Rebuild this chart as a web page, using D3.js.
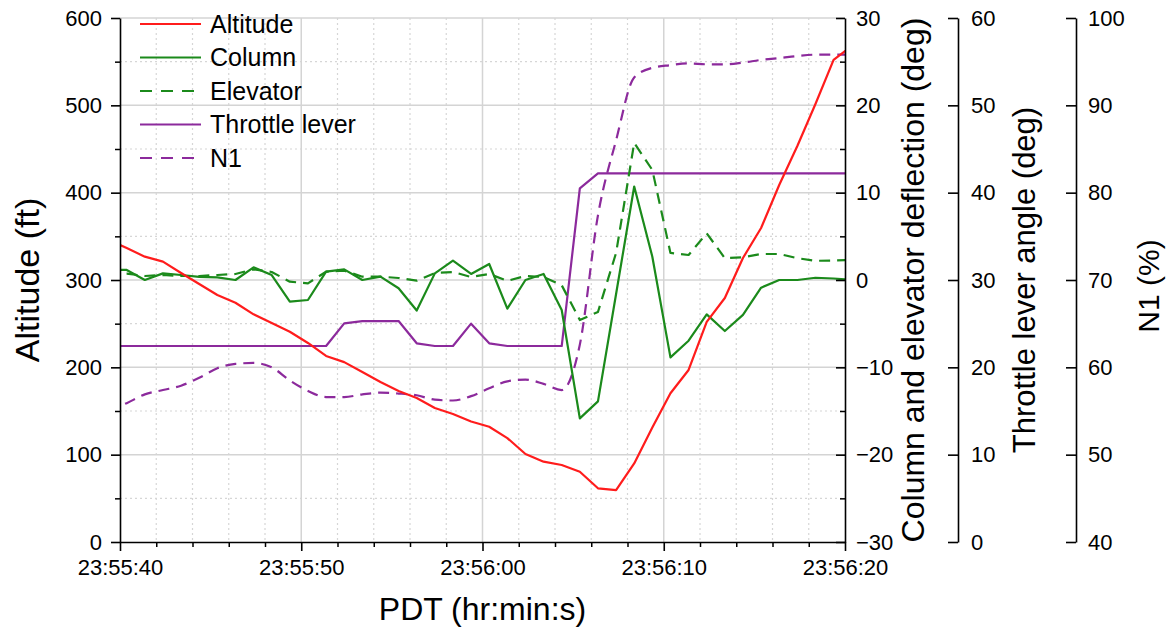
<!DOCTYPE html>
<html><head><meta charset="utf-8">
<script src="https://cdn.jsdelivr.net/npm/d3@7"></script>
<style>
body{margin:0;background:#fff;}
svg{display:block;font-family:"Liberation Sans",Arial,sans-serif;}
</style></head><body>
<svg id="chart" width="1166" height="635"></svg>
<script>
// ---- data (seconds after 23:55:40 PDT) ----
const timeSec = [-0.63,0.37,1.37,2.37,3.37,4.37,5.37,6.37,7.37,8.37,9.37,10.37,11.37,12.37,13.37,14.37,15.37,16.37,17.37,18.37,19.37,20.37,21.37,22.37,23.37,24.37,25.37,26.37,27.37,28.37,29.37,30.37,31.37,32.37,33.37,34.37,35.37,36.37,37.37,38.37,39.37,40.37];
const altitude = [345.8,336.6,326.7,321,308,295.4,282.8,274,260.7,250.8,240.8,227.9,213,206,194.7,183.2,172.9,164.9,153.4,146.6,138,132,119,100.8,92,88.2,80.5,61.5,59.5,90,131,170.3,197,252,279.4,325.2,359.6,408.8,453.5,501.5,552,568];
const column = [1.2,1.15,0,0.76,0.57,0.35,0.3,0,1.45,0.57,-2.48,-2.29,0.95,1.22,0,0.38,-0.95,-3.5,0.76,2.21,0.69,1.83,-3.28,0,0.69,-3.43,-15.84,-13.9,-1.6,10.7,2.67,-8.86,-6.95,-3.93,-5.84,-4.0,-0.88,0,0,0.26,0.17,0];
const elevator = [0.7,0.74,0.46,0.57,0.46,0.46,0.57,0.69,1.22,0.92,-0.19,-0.38,0.95,1.06,0.38,0.38,0.23,-0.08,0.8,0.92,0.34,0.69,-0.1,0.46,0.34,-0.6,-4.58,-3.66,3.1,15.7,12.6,3.1,2.86,5.35,2.5,2.6,2.98,2.98,2.5,2.2,2.23,2.3];
const throttle = [22.44,22.44,22.44,22.44,22.44,22.44,22.44,22.44,22.44,22.44,22.44,22.44,22.44,25.04,25.3,25.3,25.3,22.75,22.44,22.44,25.0,22.75,22.44,22.44,22.44,22.44,40.5,42.2,42.2,42.2,42.2,42.2,42.2,42.2,42.2,42.2,42.2,42.2,42.2,42.2,42.2,42.2];
const n1 = [55.0,55.9,56.9,57.4,57.9,58.8,59.9,60.4,60.5,60.0,58.5,57.3,56.6,56.6,56.9,57.1,57.0,56.8,56.3,56.2,56.7,57.6,58.4,58.6,58.1,57.4,62.6,77.4,86.0,93.2,94.3,94.6,94.8,94.7,94.7,94.9,95.2,95.4,95.65,95.8,95.8,95.8];

const xTickValues = [0,10,20,30,40];
const xTickLabels = ["23:55:40","23:55:50","23:56:00","23:56:10","23:56:20"];
const altTicks = [0,100,200,300,400,500,600];
const degTicks = [-30,-20,-10,0,10,20,30];
const thrTicks = [0,10,20,30,40,50,60];
const n1Ticks = [40,50,60,70,80,90,100];

const legendNames = ["Altitude","Column","Elevator","Throttle lever","N1"];

// ---- layout ----
const W = 1166, H = 635;
const m = {l:120, r:845, t:18, b:542};
const svg = d3.select("#chart");

const x = d3.scaleLinear().domain([0,40]).range([m.l,m.r]);
const yAlt = d3.scaleLinear().domain([0,600]).range([m.b,m.t]);
const yDeg = d3.scaleLinear().domain([-30,30]).range([m.b,m.t]);
const yThr = d3.scaleLinear().domain([0,60]).range([m.b,m.t]);
const yN1 = d3.scaleLinear().domain([40,100]).range([m.b,m.t]);

const RED = "#ff1c1c", GREEN = "#1b8a1b", PURPLE = "#8c2a9c";
const FONT = 22;
const DASH = "11,7";

// ---- grid ----
const grid = svg.append("g");
const xMinor = d3.range(2,40,2).filter(d => d % 10 !== 0);
const yMinor = d3.range(50,600,100);
grid.selectAll(".vmin").data(xMinor).join("line")
  .attr("x1", d=>x(d)).attr("x2", d=>x(d)).attr("y1", m.t).attr("y2", m.b)
  .attr("stroke", "#d6d6d6").attr("stroke-width", 1.2).attr("stroke-dasharray", "2,3");
grid.selectAll(".hmin").data(yMinor).join("line")
  .attr("y1", d=>yAlt(d)).attr("y2", d=>yAlt(d)).attr("x1", m.l).attr("x2", m.r)
  .attr("stroke", "#d6d6d6").attr("stroke-width", 1.2).attr("stroke-dasharray", "2,3");
grid.selectAll(".vmaj").data(xTickValues.slice(1,-1)).join("line")
  .attr("x1", d=>x(d)).attr("x2", d=>x(d)).attr("y1", m.t).attr("y2", m.b)
  .attr("stroke", "#d4d4d4").attr("stroke-width", 1.5);
grid.selectAll(".hmaj").data(altTicks.slice(1)).join("line")
  .attr("y1", d=>yAlt(d)).attr("y2", d=>yAlt(d)).attr("x1", m.l).attr("x2", m.r)
  .attr("stroke", "#d4d4d4").attr("stroke-width", 1.5);

// ---- series ----
svg.append("clipPath").attr("id","clip").append("rect")
  .attr("x", m.l).attr("y", 0).attr("width", m.r - m.l).attr("height", H);
const plot = svg.append("g").attr("clip-path","url(#clip)");
function addLine(vals, scale, color, dash, curve){
  const gen = d3.line().x((d,i)=>x(timeSec[i])).y(d=>scale(d));
  if (curve) gen.curve(curve);
  plot.append("path").datum(vals).attr("d", gen)
    .attr("fill","none").attr("stroke", color).attr("stroke-width", 2.2)
    .attr("stroke-linejoin","round")
    .attr("stroke-dasharray", dash ? DASH : null);
}
addLine(n1, yN1, PURPLE, true, d3.curveMonotoneX);
addLine(throttle, yThr, PURPLE, false);
addLine(elevator, yDeg, GREEN, true);
addLine(column, yDeg, GREEN, false);
addLine(altitude, yAlt, RED, false);

// ---- axes ----
function styleAxis(g){
  g.attr("font-size", FONT).attr("font-family", null);
  g.selectAll("path.domain").attr("stroke","#000").attr("stroke-width",1.6);
  g.selectAll(".tick line").attr("stroke","#000").attr("stroke-width",1.6);
  g.selectAll(".tick text").attr("fill","#000");
}
function minor(g){
  g.select("path.domain").remove();
  g.selectAll(".tick line").attr("stroke","#000").attr("stroke-width",1.5);
}
// left
svg.append("g").attr("transform",`translate(${m.l},0)`)
  .call(d3.axisLeft(yAlt).tickValues(yMinor).tickSize(5).tickFormat("")).call(minor);
svg.append("g").attr("transform",`translate(${m.l},0)`)
  .call(d3.axisLeft(yAlt).tickValues(altTicks).tickSizeInner(9).tickSizeOuter(0).tickPadding(9))
  .call(styleAxis);
// bottom
svg.append("g").attr("transform",`translate(0,${m.b})`)
  .call(d3.axisBottom(x).tickValues(xMinor).tickSize(5).tickFormat("")).call(minor);
svg.append("g").attr("transform",`translate(0,${m.b})`)
  .call(d3.axisBottom(x).tickValues(xTickValues).tickFormat((d,i)=>xTickLabels[i])
    .tickSizeInner(9).tickSizeOuter(0).tickPadding(8))
  .call(styleAxis);
// right 1 (deflection)
const degMinor = [-25,-15,-5,5,15,25];
svg.append("g").attr("transform",`translate(${m.r},0)`)
  .call(d3.axisRight(yDeg).tickValues(degMinor).tickSize(-5).tickFormat("")).call(minor);
svg.append("g").attr("transform",`translate(${m.r},0)`)
  .call(d3.axisRight(yDeg).tickValues(degTicks).tickSizeInner(-9).tickSizeOuter(0).tickPadding(11))
  .call(styleAxis);
// right 2 (throttle)
const ax2 = 958, ax3 = 1076;
svg.append("g").attr("transform",`translate(${ax2},0)`)
  .call(d3.axisRight(yThr).tickValues(thrTicks).tickSizeInner(-10).tickSizeOuter(0).tickPadding(13))
  .call(styleAxis);
// right 3 (N1)
svg.append("g").attr("transform",`translate(${ax3},0)`)
  .call(d3.axisRight(yN1).tickValues(n1Ticks).tickSizeInner(-10).tickSizeOuter(0).tickPadding(12))
  .call(styleAxis);

// ---- titles ----
function vTitle(cx, cy, size, text){
  svg.append("text").attr("transform",`translate(${cx},${cy}) rotate(-90)`)
    .attr("text-anchor","middle").attr("dy","0.35em")
    .attr("font-size",size).attr("fill","#000").text(text);
}
const midY = (m.t+m.b)/2;
vTitle(27, midY, 34, "Altitude (ft)");
vTitle(913, midY, 32, "Column and elevator deflection (deg)");
vTitle(1024, midY, 31, "Throttle lever angle (deg)");
vTitle(1148, midY + 6, 30, "N1 (%)");
svg.append("text").attr("x",(m.l+m.r)/2).attr("y",620).attr("text-anchor","middle")
  .attr("font-size",32).attr("fill","#000").text("PDT (hr:min:s)");

// ---- legend ----
const legColors = [RED, GREEN, GREEN, PURPLE, PURPLE];
const legDash = [false,false,true,false,true];
const leg = svg.append("g");
legendNames.forEach((name,i)=>{
  const yy = 24 + i*33.5;
  leg.append("line").attr("x1",140).attr("x2",201).attr("y1",yy).attr("y2",yy)
    .attr("stroke",legColors[i]).attr("stroke-width",2.2)
    .attr("stroke-dasharray", legDash[i] ? "12,9" : null);
  leg.append("text").attr("x",210).attr("y",yy).attr("dy","0.35em")
    .attr("font-size",25).attr("fill","#000").text(name);
});
</script>
</body></html>
